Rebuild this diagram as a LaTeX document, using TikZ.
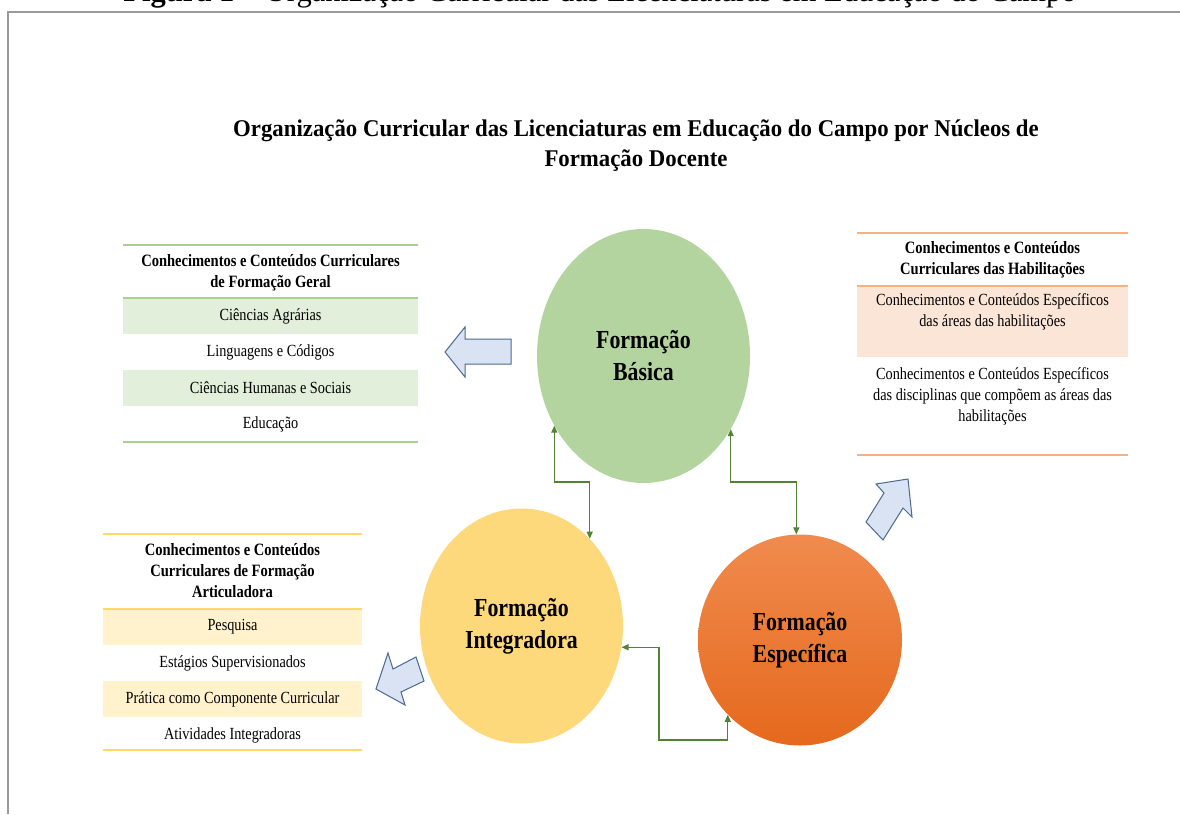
\documentclass[tikz,border=0pt]{standalone}
\usepackage{fontspec}
\setmainfont{Liberation Serif}
\newfontfamily\tabfont[FakeStretch=0.84]{Liberation Serif}
\newfontfamily\headfont[FakeStretch=0.95]{Liberation Serif}
\usetikzlibrary{shapes.geometric,arrows.meta}

\definecolor{framegray}{HTML}{9A9A9A}
\definecolor{basgreen}{HTML}{B3D49E}
\definecolor{intyellow}{HTML}{FED97B}
\definecolor{esptop}{HTML}{F08B4E}
\definecolor{espbot}{HTML}{E5691D}
\definecolor{linkgreen}{HTML}{548235}
\definecolor{arrowfill}{HTML}{DAE3F3}
\definecolor{arrowdraw}{HTML}{4A6A8F}
\definecolor{geralfill}{HTML}{E2EFDA}
\definecolor{geralrule}{HTML}{A9D18E}
\definecolor{habfill}{HTML}{FBE5D6}
\definecolor{habrule}{HTML}{F4B183}
\definecolor{artfill}{HTML}{FFF2CC}
\definecolor{artrule}{HTML}{FFD966}

\begin{document}
\begin{tikzpicture}[x=1pt,y=-1pt]
\tikzstyle{core}=[ellipse, inner sep=0pt, align=center, font=\tabfont\bfseries\fontsize{26}{32}\selectfont]
\tikzstyle{rowtext}=[inner sep=0pt, align=center, font=\tabfont\fontsize{17}{21}\selectfont]
\tikzstyle{headtext}=[inner sep=0pt, align=center, font=\tabfont\bfseries\fontsize{17.3}{21}\selectfont]
\tikzstyle{link}=[draw=linkgreen, line width=1.1pt, {Triangle[length=7pt,width=6pt]}-{Triangle[length=7pt,width=6pt]}]
\tikzstyle{blockarrow}=[fill=arrowfill, draw=arrowdraw, line width=1pt, line join=miter]
\clip (0,0) rectangle (1180,814);
\fill[white] (0,0) rectangle (1180,814);
\draw[framegray, line width=2pt] (8,814) -- (8,12) -- (1180,12);
\node[anchor=base, inner sep=0pt, font=\fontsize{30.5}{31}\selectfont] (caption) at (600,1.5) {\textbf{Figura 1} – Organização Curricular das Licenciaturas em Educação do Campo};
\node[align=center, font=\headfont\bfseries\fontsize{24}{30}\selectfont] (title) at (636,146) {Organização Curricular das Licenciaturas em Educação do Campo por Núcleos de\\Formação Docente};
\node[core, minimum width=213pt, minimum height=254pt, fill=basgreen] (bas) at (643.5,356) {Formação\\Básica};
\node[core, minimum width=203pt, minimum height=235pt, fill=intyellow] (int) at (521.5,626) {Formação\\Integradora};
\node[core, minimum width=204pt, minimum height=211pt, top color=esptop, bottom color=espbot] (esp) at (800,640) {Formação\\Específica};
\coordinate (bend) at (0,482);
\coordinate (dip) at (659,740);
\draw[link] (bas.218) |- (int.52 |- bend) -- (int.52);
\draw[link] (bas.320) |- (esp.92 |- bend) -- (esp.92);
\draw[link] (int.348) -| (dip) -| (esp.226);
\draw[blockarrow] (445,352) -- (465,327) -- (465,339) -- (511,339) -- (511,364) -- (465,364) -- (465,377) -- cycle;
\draw[blockarrow] (908,479) -- (912,517) -- (903,508) -- (883,540) -- (866,522) -- (884,493) -- (876,484) -- cycle;
\draw[blockarrow] (376,689) -- (388,653) -- (393,669) -- (416,657) -- (424,681) -- (401,692) -- (405,705) -- cycle;
\fill[geralfill] (123,298) rectangle (418,334);
\fill[geralfill] (123,370) rectangle (418,406);
\foreach \y in {245,298,442}
  \draw[geralrule, line width=2pt] (123,\y) -- (418,\y);
\node[headtext] (geral) at (270.5,272.5) {Conhecimentos e Conteúdos Curriculares\\de Formação Geral};
\node[rowtext] (agr) at (270.5,316) {Ciências Agrárias};
\node[rowtext] (lin) at (270.5,352) {Linguagens e Códigos};
\node[rowtext] (hum) at (270.5,388) {Ciências Humanas e Sociais};
\node[rowtext] (edu) at (270.5,424) {Educação};
\fill[habfill] (857,286) rectangle (1128,357);
\foreach \y in {233,286,455}
  \draw[habrule, line width=2pt] (857,\y) -- (1128,\y);
\node[headtext] (hab) at (992.5,260) {Conhecimentos e Conteúdos\\Curriculares das Habilitações};
\node[rowtext] (are) at (992.5,312) {Conhecimentos e Conteúdos Específicos\\das áreas das habilitações};
\node[rowtext] (dis) at (992.5,396) {Conhecimentos e Conteúdos Específicos\\das disciplinas que compõem as áreas das\\habilitações};
\fill[artfill] (103,609) rectangle (362,645);
\fill[artfill] (103,681) rectangle (362,717);
\foreach \y in {534,609,750}
  \draw[artrule, line width=2pt] (103,\y) -- (362,\y);
\node[headtext] (art) at (232.5,571) {Conhecimentos e Conteúdos\\Curriculares de Formação\\Articuladora};
\node[rowtext] (pes) at (232.5,627) {Pesquisa};
\node[rowtext] (est) at (232.5,663) {Estágios Supervisionados};
\node[rowtext] (pra) at (232.5,699) {Prática como Componente Curricular};
\node[rowtext] (ati) at (232.5,735) {Atividades Integradoras};
\end{tikzpicture}
\end{document}
